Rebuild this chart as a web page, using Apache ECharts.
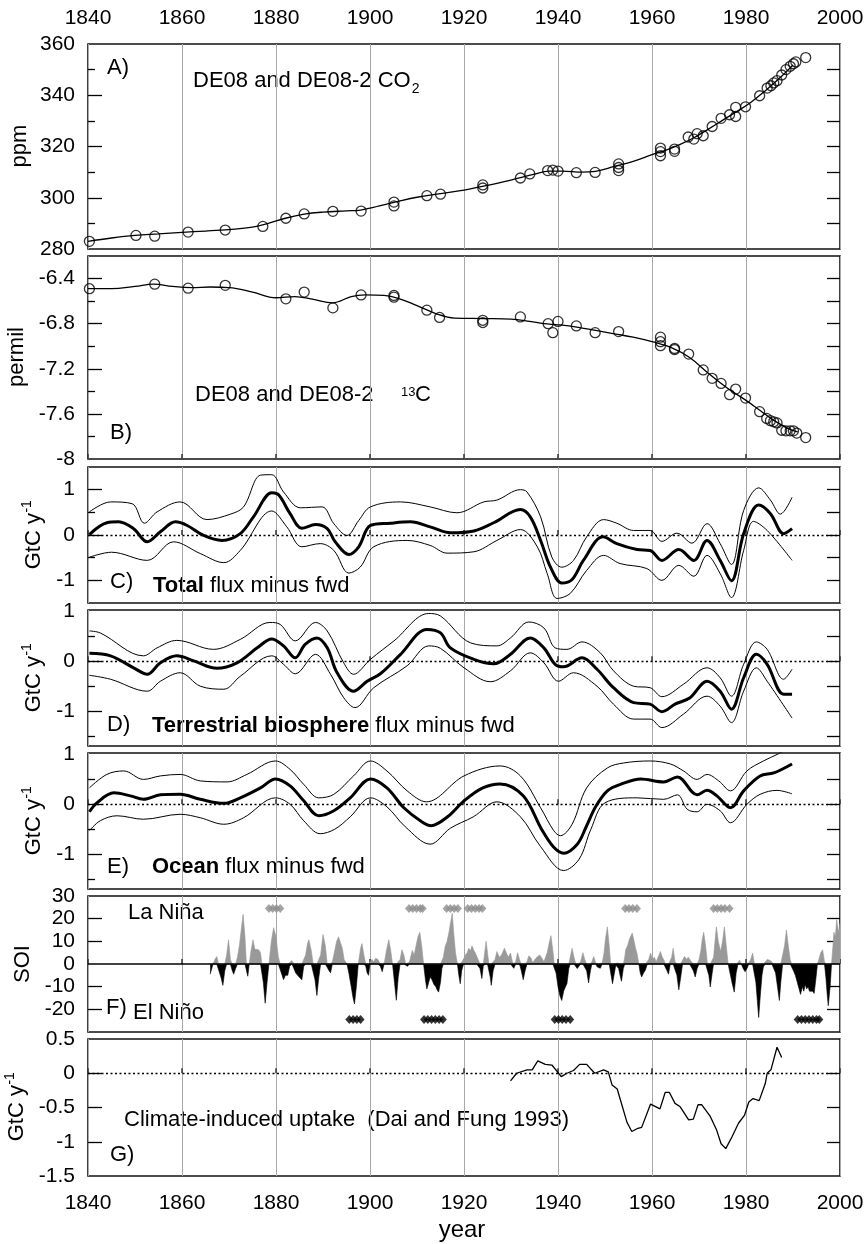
<!DOCTYPE html>
<html>
<head>
<meta charset="utf-8">
<script src="https://cdn.jsdelivr.net/npm/echarts@6/dist/echarts.min.js"></script>
<style>
  html, body { margin: 0; padding: 0; background: #fff; }
  #chart { width: 868px; height: 1244px; }
</style>
</head>
<body>
<div id="chart"></div>
<script>
// ---------- data ----------
// A) CO2 (ppm): ice-core samples and spline fit
const co2Samples = [
  [1840.3,283.0],[1850.2,285.3],[1854.2,285.0],[1861.3,286.6],[1869.2,287.4],[1877.2,288.8],
  [1882.1,292.0],[1886.0,293.7],[1892.1,294.7],[1898.1,294.8],[1905.1,298.3],[1905.1,296.8],
  [1912.1,300.8],[1915.0,301.4],[1924.0,305.0],[1924.0,303.8],[1932.0,307.7],[1934.0,309.3],
  [1937.8,310.6],[1938.9,310.8],[1940.0,310.4],[1943.9,309.8],[1947.9,309.9],[1952.9,313.2],
  [1952.9,311.8],[1952.9,310.6],[1961.8,319.4],[1961.8,318.0],[1961.8,316.4],[1964.8,319.0],
  [1964.8,318.1],[1967.7,323.7],[1968.9,322.9],[1969.6,325.0],[1970.9,324.2],[1972.8,327.8],
  [1974.7,331.0],[1976.5,332.4],[1977.8,335.3],[1977.8,331.7],[1979.9,335.5],[1982.9,339.8],
  [1984.5,342.8],[1985.3,343.7],[1985.9,344.8],[1986.6,345.7],[1987.6,347.9],[1988.5,350.0],
  [1989.4,351.3],[1990.1,352.3],[1990.6,353.0],[1992.7,354.7]
];
const co2Fit = [
  [1840,283.0],[1845,284.3],[1850,285.3],[1855,285.9],[1860,286.5],[1865,287.0],[1870,287.6],
  [1875,288.5],[1878,289.8],[1882,292.0],[1886,293.6],[1890,294.4],[1895,294.9],[1898,295.2],
  [1902,296.8],[1906,298.6],[1910,300.2],[1915,301.6],[1920,303.0],[1925,304.8],[1930,306.9],
  [1935,309.2],[1938,310.4],[1941,310.4],[1945,310.0],[1948,310.3],[1952,312.2],[1956,314.2],
  [1960,316.8],[1963,318.6],[1966,320.8],[1969,323.5],[1972,326.8],[1975,330.2],[1978,333.6],
  [1981,337.2],[1984,341.6],[1987,346.4],[1990,351.8]
];
// B) delta 13C (permil): samples and spline fit
const c13Samples = [
  [1840.3,-6.49],[1854.2,-6.45],[1861.3,-6.485],[1869.2,-6.46],[1882.1,-6.58],[1886.0,-6.52],
  [1892.1,-6.66],[1898.1,-6.545],[1905.1,-6.55],[1905.1,-6.565],[1912.1,-6.68],[1914.8,-6.745],
  [1924.0,-6.77],[1924.0,-6.79],[1932.0,-6.74],[1937.9,-6.80],[1938.9,-6.88],[1940.0,-6.78],
  [1943.9,-6.82],[1947.9,-6.88],[1952.9,-6.87],[1961.8,-6.92],[1961.8,-6.96],[1961.8,-6.995],
  [1964.8,-7.02],[1964.8,-7.03],[1967.8,-7.07],[1970.9,-7.21],[1972.8,-7.285],[1974.7,-7.33],
  [1976.5,-7.43],[1977.8,-7.38],[1979.9,-7.46],[1982.9,-7.58],[1984.4,-7.64],[1985.2,-7.66],
  [1985.9,-7.67],[1986.6,-7.68],[1987.6,-7.745],[1988.5,-7.75],[1989.4,-7.75],[1990.1,-7.75],
  [1990.8,-7.77],[1992.7,-7.81]
];
const c13Fit = [
  [1840,-6.49],[1845,-6.49],[1850,-6.47],[1854,-6.45],[1858,-6.47],[1862,-6.48],[1866,-6.475],
  [1870,-6.48],[1875,-6.52],[1880,-6.57],[1884,-6.56],[1888,-6.585],[1892,-6.615],[1896,-6.56],
  [1899,-6.545],[1903,-6.55],[1906,-6.575],[1910,-6.64],[1914,-6.71],[1918,-6.75],[1924,-6.755],
  [1930,-6.76],[1934,-6.78],[1937,-6.80],[1940,-6.81],[1944,-6.83],[1948,-6.86],[1952,-6.89],
  [1956,-6.92],[1960,-6.96],[1964,-7.01],[1968,-7.10],[1972,-7.24],[1976,-7.37],[1980,-7.48],
  [1983,-7.57],[1986,-7.66],[1989,-7.73],[1991,-7.76]
];
// C) total flux minus fwd (GtC/yr): mean and band
const totalMean = [
  [1840.3,0.01],[1844,0.27],[1846.5,0.29],[1849.7,0.14],[1852.6,-0.15],[1855.4,0.07],[1858.6,0.29],
  [1861.1,0.21],[1864.6,-0.01],[1868.5,-0.12],[1872.4,0.03],[1875.2,0.40],[1879.1,0.93],[1880.6,0.88],
  [1883.0,0.47],[1885.5,0.15],[1888.4,0.23],[1890.9,0.14],[1892.6,-0.15],[1895.5,-0.43],[1897.6,-0.26],
  [1900.1,0.21],[1904.3,0.26],[1908.6,0.29],[1912.8,0.18],[1917.1,0.05],[1922.1,0.09],[1926.3,0.27],
  [1932.0,0.56],[1934.1,0.40],[1936.3,-0.12],[1938.4,-0.71],[1940.8,-1.06],[1943.0,-0.98],[1945.4,-0.56],
  [1949.6,-0.04],[1952.5,-0.19],[1956.8,-0.32],[1959.6,-0.34],[1962.1,-0.56],[1965.7,-0.32],[1968.9,-0.56],
  [1971.7,-0.12],[1974.5,-0.56],[1976.9,-1.01],[1979.5,0.03],[1982.7,0.66],[1985.2,0.47],[1988.0,0.03],
  [1989.8,0.14]
];
const totalUpper = [
  [1840.3,0.51],[1844.8,0.73],[1849.4,0.69],[1852,0.26],[1854.7,0.51],[1859.6,0.73],[1865.3,0.34],
  [1870.3,0.46],[1873.1,0.62],[1876.7,1.32],[1879.1,1.33],[1881.6,0.95],[1885.2,0.60],[1889.8,0.62],
  [1892.3,0.25],[1895.1,-0.01],[1897.6,0.32],[1900.1,0.62],[1906.5,0.73],[1912.8,0.62],[1918.5,0.49],
  [1924.2,0.73],[1927,0.77],[1932,1.0],[1933.4,0.95],[1936.3,0.40],[1938.7,-0.49],[1940.8,-0.71],
  [1943.3,-0.56],[1946.1,-0.04],[1949.7,0.34],[1952.5,0.26],[1956.1,0.10],[1959.6,0.10],[1962.1,-0.14],
  [1965.3,0.04],[1968.5,-0.18],[1971.7,0.25],[1974.5,-0.19],[1976.9,-0.65],[1979.5,0.54],[1982.7,1.04],
  [1985.2,0.77],[1987.3,0.46],[1989.8,0.83]
];
const totalLower = [
  [1840.3,-0.49],[1845,-0.38],[1852.6,-0.56],[1858.2,-0.15],[1863.9,-0.41],[1868.9,-0.61],[1872.4,-0.34],
  [1879.1,0.53],[1882.3,0.18],[1885.5,-0.26],[1889.4,-0.19],[1892.3,-0.34],[1895.5,-0.84],[1897.9,-0.71],
  [1900.8,-0.26],[1907.9,-0.12],[1912.8,-0.23],[1916.4,-0.40],[1922.1,-0.37],[1927,-0.12],[1932,0.12],
  [1935.6,-0.26],[1937.7,-0.85],[1939.8,-1.40],[1942.6,-1.29],[1946.1,-0.78],[1949.7,-0.45],[1953.2,-0.63],
  [1958.9,-0.74],[1962.1,-1.0],[1965.7,-0.67],[1968.9,-0.91],[1971.7,-0.45],[1974.5,-0.85],[1976.9,-1.38],
  [1979.5,-0.34],[1981.6,0.30],[1984.5,0.10],[1989.8,-0.56]
];
// D) terrestrial biosphere flux minus fwd
const bioMean = [
  [1840.3,0.16],[1844.8,0.11],[1849.7,-0.13],[1852.6,-0.26],[1855.4,-0.03],[1858.9,0.11],[1862.5,0.01],
  [1867.4,-0.14],[1871.7,-0.03],[1876,0.27],[1879.1,0.45],[1881.6,0.31],[1884.1,0.07],[1886.2,0.34],
  [1888.7,0.47],[1890.9,0.27],[1893,-0.23],[1896.5,-0.60],[1899.4,-0.40],[1902.2,-0.25],[1906.5,0.14],
  [1912.1,0.64],[1915,0.57],[1917.1,0.27],[1922.1,0.04],[1926.3,-0.05],[1929.9,0.14],[1934.1,0.47],
  [1937,0.27],[1939.4,-0.06],[1941.2,-0.11],[1945.1,0.07],[1948.3,-0.16],[1951.8,-0.53],[1956.1,-0.83],
  [1959.6,-0.86],[1962.1,-1.01],[1964.9,-0.86],[1968.1,-0.73],[1971.7,-0.40],[1974.5,-0.60],[1976.9,-0.96],
  [1979.5,-0.33],[1982.2,0.14],[1984.5,-0.06],[1988,-0.66],[1989.8,-0.66]
];
const bioUpper = [
  [1840.3,0.61],[1842.6,0.57],[1851.8,0.11],[1854.7,0.27],[1858.9,0.42],[1866.7,0.24],[1872.4,0.44],
  [1878.7,0.78],[1880.9,0.74],[1884.1,0.41],[1888.4,0.78],[1890.9,0.61],[1894.4,-0.03],[1896.5,-0.26],
  [1900.1,0.04],[1905.1,0.41],[1912.5,0.96],[1915,0.91],[1921.4,0.37],[1927,0.31],[1929.9,0.47],
  [1933.8,0.79],[1937,0.67],[1939.4,0.27],[1941.9,0.24],[1945.1,0.39],[1949,0.17],[1951.8,-0.19],
  [1956.1,-0.50],[1959.6,-0.53],[1962.1,-0.71],[1966.7,-0.46],[1971.7,-0.13],[1974.5,-0.33],[1976.9,-0.70],
  [1979.5,-0.06],[1982.2,0.39],[1984.5,0.24],[1988,-0.36],[1989.8,-0.16]
];
const bioLower = [
  [1840.3,-0.28],[1844.8,-0.36],[1852.6,-0.60],[1855.4,-0.40],[1859.6,-0.23],[1863.9,-0.50],[1868.9,-0.56],
  [1872.4,-0.30],[1879.1,0.11],[1881.6,-0.06],[1884.1,-0.25],[1888.4,0.14],[1891.6,-0.26],[1894.4,-0.73],
  [1896.8,-0.93],[1900.8,-0.53],[1907.9,-0.09],[1912.5,0.31],[1915,0.26],[1920,-0.13],[1925.6,-0.41],
  [1929.9,-0.19],[1934.1,0.17],[1937,-0.03],[1940.1,-0.40],[1943.3,-0.23],[1948.3,-0.50],[1951.8,-0.86],
  [1956.1,-1.16],[1959.6,-1.16],[1962.1,-1.33],[1966.7,-1.06],[1971.7,-0.70],[1974.5,-0.90],[1976.9,-1.23],
  [1979.5,-0.60],[1982.2,-0.13],[1984.5,-0.40],[1989.8,-1.14]
];
// E) ocean flux minus fwd
const oceanMean = [
  [1840.3,-0.15],[1841.9,0.03],[1845.5,0.23],[1849,0.17],[1851.8,0.10],[1855.4,0.19],[1859.6,0.20],
  [1863.9,0.10],[1868.9,0.02],[1872.4,0.13],[1876.7,0.33],[1879.9,0.51],[1883,0.37],[1885.9,0.07],
  [1889.1,-0.23],[1892.3,-0.13],[1895.8,0.13],[1900.1,0.51],[1903.6,0.33],[1907.2,-0.07],[1910.7,-0.33],
  [1913,-0.43],[1916.5,-0.25],[1920,0.07],[1924,0.33],[1927.7,0.41],[1932.6,0.17],[1936.5,-0.50],
  [1939,-0.85],[1941.2,-0.98],[1944.1,-0.80],[1946,-0.45],[1948,-0.05],[1950.5,0.27],[1953.3,0.40],
  [1957.6,0.51],[1962.5,0.45],[1965.4,0.55],[1969.6,0.19],[1971.7,0.28],[1973.8,0.17],[1976.7,-0.07],
  [1979.5,0.27],[1983,0.57],[1985.9,0.63],[1989.8,0.81]
];
const oceanUpper = [
  [1840.3,0.33],[1844,0.60],[1847.6,0.67],[1851.8,0.50],[1855.4,0.57],[1859.6,0.60],[1863.9,0.47],
  [1869.6,0.45],[1873.8,0.60],[1879.9,0.87],[1883,0.70],[1885.9,0.40],[1889.1,0.13],[1892.3,0.20],
  [1896.5,0.57],[1900.1,0.87],[1903.6,0.67],[1907.9,0.27],[1912,0.05],[1920,0.57],[1927.7,0.77],
  [1932,0.57],[1936.3,-0.07],[1939.1,-0.53],[1940.5,-0.63],[1943,-0.40],[1946.1,0.33],[1950.5,0.73],
  [1954,0.83],[1959.6,0.87],[1963.9,0.81],[1966.7,0.67],[1969.6,0.50],[1971.7,0.60],[1974.2,0.47],
  [1976.7,0.27],[1980.2,0.67],[1983.7,0.87],[1986.6,1.0],[1988.5,1.1]
];
const oceanLower = [
  [1840.3,-0.53],[1842.6,-0.33],[1846.2,-0.23],[1851.8,-0.30],[1859.6,-0.20],[1863.9,-0.27],[1868.9,-0.40],
  [1873.1,-0.27],[1879.9,0.13],[1883,0.0],[1885.9,-0.33],[1889.4,-0.59],[1892.5,-0.50],[1895.8,-0.25],
  [1900.1,0.13],[1903.6,-0.05],[1907.5,-0.45],[1912.8,-0.80],[1917.1,-0.48],[1922,-0.25],[1927,0.05],
  [1932,-0.25],[1936.3,-0.85],[1941.2,-1.33],[1944.5,-1.10],[1947,-0.50],[1950,0.03],[1956.8,0.13],
  [1962.5,0.10],[1965.4,0.19],[1967.5,-0.10],[1969.6,-0.15],[1971.7,0.0],[1974.5,-0.13],[1976.7,-0.37],
  [1980.2,0.0],[1983,0.20],[1986.6,0.28],[1989.8,0.21]
];
// F) Southern Oscillation Index
const soi = [
  [1866.0,-4.5],[1866.6,0],[1867.0,2],[1867.4,3.3],[1867.8,0],[1868.3,-6],[1868.7,-9.4],[1869.1,-3],
  [1869.5,4],[1869.9,10.7],[1870.3,2],[1870.7,-3],[1871.0,-4.5],[1871.4,-2],[1871.8,3],[1872.2,8],
  [1872.6,15],[1873.0,21.9],[1873.4,12],[1873.7,0],[1874.0,-5.4],[1874.3,0],[1874.7,6],[1875.1,10.7],
  [1875.5,6.5],[1875.9,6],[1876.3,6.3],[1876.7,5],[1877.0,0],[1877.3,-8],[1877.7,-17.3],[1878.1,-8],
  [1878.5,0],[1879.0,10],[1879.5,16],[1880.0,12],[1880.5,3],[1880.9,0],[1881.3,-5],[1881.6,-6.9],
  [1882.0,-5],[1882.5,-5],[1882.9,-1],[1883.4,1.5],[1883.8,-2],[1884.2,-4],[1884.6,-5],[1885.0,-5.5],
  [1885.5,-7],[1885.9,-1],[1886.3,4],[1886.7,9],[1887.0,10.7],[1887.5,6],[1887.9,0],[1888.3,-7],
  [1888.7,-13.9],[1889.1,-6],[1889.5,4],[1890.0,13],[1890.5,8],[1890.9,0],[1891.3,-3],[1891.6,-3.9],
  [1892.0,1],[1892.5,6],[1892.9,10],[1893.3,12],[1893.7,12],[1894.1,7],[1894.5,2],[1895.1,0],
  [1895.5,-4],[1896.0,-10],[1896.4,-15],[1896.7,-17.6],[1897.1,-10],[1897.5,0],[1898.0,7],[1898.3,9],
  [1898.7,4],[1899.1,-1],[1899.4,-4],[1899.7,-5],[1900.0,0],[1900.4,2],[1900.8,1],[1901.2,2.5],
  [1901.7,2],[1902.2,-1],[1902.6,-3.4],[1903.0,0],[1903.5,6],[1904.0,10.7],[1904.4,6],[1904.8,0],
  [1905.2,-8],[1905.6,-16],[1906.0,-6],[1906.4,2],[1906.8,6.3],[1907.2,4],[1907.6,0],[1908.0,-1],
  [1908.4,1],[1909.0,6],[1909.4,4],[1909.8,8],[1910.2,12],[1910.6,14],[1911.0,8],[1911.4,0],
  [1911.8,-7],[1912.1,-11],[1912.5,-8],[1912.8,-5.7],[1913.2,-7],[1913.6,-9],[1914.0,-10],[1914.3,-11.5],
  [1914.6,-12.4],[1915.0,-8],[1915.3,-2],[1915.6,3],[1916.0,7.8],[1916.4,10],[1916.8,14],[1917.2,19],
  [1917.5,22.4],[1917.8,14],[1918.2,4.8],[1918.6,0],[1918.9,-5],[1919.2,-8.7],[1919.5,-3],[1919.9,2],
  [1920.3,4],[1920.7,5],[1921.0,6.9],[1921.4,6],[1921.7,8],[1922.1,6],[1922.4,5],[1922.7,5.5],
  [1923.0,2],[1923.4,-2],[1923.8,-6.4],[1924.1,-1],[1924.4,5],[1924.7,10],[1925.0,5],[1925.3,0],
  [1925.6,-6],[1925.8,-9.4],[1926.2,-3],[1926.6,2],[1927.0,5.5],[1927.5,3],[1928.0,4],[1928.6,7],
  [1929.0,5],[1929.4,3],[1929.9,4.8],[1930.3,1],[1930.6,-1.9],[1931.0,1],[1931.4,5],[1931.8,2],
  [1932.2,-3],[1932.6,-6.9],[1933.0,-3],[1933.4,1],[1933.8,3.6],[1934.3,2.5],[1934.6,0.5],[1935.0,1.8],
  [1935.5,3],[1936.1,4],[1936.6,2.5],[1937.0,1],[1937.3,1.8],[1937.7,5],[1938.1,9],[1938.5,12.5],
  [1938.9,6],[1939.2,0],[1939.6,-4],[1940.0,-10],[1940.4,-14],[1940.8,-16.1],[1941.2,-12],[1941.6,-10],
  [1941.9,-8.7],[1942.3,-2],[1942.6,3],[1943.0,6.9],[1943.4,3],[1943.8,0],[1944.1,-2],[1944.4,-2.7],
  [1944.8,1],[1945.3,5],[1945.7,2],[1946.1,-3],[1946.5,-8.3],[1946.9,-3],[1947.2,1],[1947.6,3.3],
  [1948.0,0.5],[1948.3,-1.2],[1948.7,-1],[1949.0,-1.9],[1949.4,0.5],[1949.8,5],[1950.1,11],[1950.5,16.4],
  [1950.9,8],[1951.2,0],[1951.6,-8.7],[1952.0,-4],[1952.3,-0.5],[1952.6,0.5],[1952.9,-2],[1953.2,-5],
  [1953.5,-7.6],[1953.9,-2],[1954.2,3],[1954.4,6.3],[1954.8,8],[1955.2,11],[1955.8,13.7],[1956.2,10],
  [1956.5,7],[1956.8,4.8],[1957.2,0],[1957.5,-4],[1957.8,-5.7],[1958.2,-4],[1958.6,-2.7],[1959.0,0],
  [1959.3,2],[1959.7,4.8],[1960.1,2],[1960.5,3],[1960.9,1],[1961.3,3],[1961.8,5.5],[1962.1,3.5],
  [1962.5,1.8],[1962.9,0],[1963.2,-3],[1963.5,-4.5],[1963.9,0],[1964.2,3],[1964.5,6.9],[1964.9,1],
  [1965.3,-5],[1965.7,-11.4],[1966.1,-6],[1966.5,0],[1966.9,3.3],[1967.4,2],[1967.7,3],[1968.0,3],
  [1968.4,1],[1968.8,-3],[1969.2,-5.7],[1969.6,-2],[1970.0,2],[1970.4,6],[1970.7,11],[1971.0,14],
  [1971.4,8],[1971.8,0],[1972.1,-5],[1972.4,-10.1],[1972.8,-4],[1973.1,3],[1973.4,10],[1973.7,16.4],
  [1974.1,10],[1974.6,5.5],[1975.0,10],[1975.4,16.4],[1975.8,8],[1976.2,0],[1976.6,-4],[1977.0,-8],
  [1977.5,-12.4],[1977.9,-4],[1978.3,0.5],[1978.6,1.8],[1979.0,0],[1979.4,-2],[1979.8,-3.4],[1980.2,-2],
  [1980.6,0.5],[1981.0,2],[1981.4,4.8],[1981.8,0],[1982.1,-8],[1982.4,-16],[1982.7,-23.6],[1983.0,-15],
  [1983.4,-5],[1983.7,-1.2],[1984.1,1],[1984.5,2],[1984.8,2.5],[1985.2,1.5],[1985.5,1.8],[1985.9,0],
  [1986.3,-4],[1986.7,-10],[1987.1,-16.1],[1987.4,-8],[1987.8,0],[1988.2,8],[1988.6,15],[1989.0,8],
  [1989.4,2],[1989.7,0],[1990.1,-3],[1990.5,-5],[1990.9,-8],[1991.3,-11],[1991.6,-13.4],[1992.0,-10],
  [1992.3,-12],[1992.6,-9],[1992.9,-11],[1993.2,-10],[1993.5,-12],[1993.8,-11.4],[1994.2,-12],[1994.5,-13],
  [1994.9,-6],[1995.2,0],[1995.5,2],[1995.9,5],[1996.3,6.3],[1996.7,1],[1997.0,-6],[1997.3,-14],
  [1997.5,-18.4],[1997.9,-10],[1998.2,0],[1998.5,8],[1998.7,14],[1999.0,12],[1999.3,19.5],[1999.7,14],
  [2000.0,18]
];
const laNinaYears = [1878.5,1879.3,1880.1,1880.9, 1908.3,1909.1,1909.9,1910.7,1911.2,
  1916.3,1917.1,1917.9,1918.7, 1920.8,1921.6,1922.4,1923.2,1923.9,
  1954.3,1955.1,1955.9,1956.8, 1973.1,1973.9,1974.7,1975.5,1976.5];
const elNinoYears = [1895.6,1896.4,1897.2,1898.0, 1911.5,1912.3,1913.1,1913.9,1914.7,1915.5,
  1939.3,1940.1,1940.9,1941.7,1942.6, 1991.0,1991.8,1992.6,1993.4,1994.2,1995.0,1995.6];
// G) climate-induced uptake (Dai and Fung 1993)
const daiFung = [
  [1929.9,-0.11],[1931.2,0.0],[1933.4,0.05],[1934.5,0.05],[1935.7,0.18],[1937.3,0.13],[1938.7,0.12],
  [1940.7,-0.05],[1941.9,0.0],[1943.3,0.04],[1944.6,0.13],[1946.1,0.13],[1947.8,0.0],[1949.7,0.05],
  [1950.7,0.02],[1951.5,-0.17],[1952.6,-0.23],[1954.7,-0.72],[1955.7,-0.85],[1956.8,-0.81],[1957.8,-0.79],
  [1959.7,-0.45],[1961.7,-0.52],[1962.8,-0.28],[1963.7,-0.28],[1964.9,-0.44],[1966.0,-0.49],[1967.8,-0.68],
  [1968.8,-0.67],[1969.8,-0.46],[1970.6,-0.46],[1972.4,-0.63],[1973.7,-0.82],[1974.7,-1.03],[1975.7,-1.10],
  [1977.0,-0.93],[1978.4,-0.73],[1979.7,-0.61],[1980.6,-0.42],[1981.5,-0.37],[1982.8,-0.40],[1984.1,-0.15],
  [1984.5,0.0],[1985.3,0.05],[1986.6,0.38],[1987.6,0.23]
];

// tick label values per panel
const yearTicks = [1840, 1860, 1880, 1900, 1920, 1940, 1960, 1980, 2000];
const co2Labels = [280, 300, 320, 340, 360];
const c13Labels = [-8, -7.6, -7.2, -6.8, -6.4];
const fluxLabels = [-1, 0, 1];
const soiLabels = [-20, -10, 0, 10, 20, 30];
const uptakeLabels = [-1.5, -1, -0.5, 0, 0.5];

// ---------- layout ----------
const FONT = '"Liberation Sans", Arial, Helvetica, sans-serif';
const LEFT = 88, WIDTH = 752;
const panels = [
  { top: 44,   h: 205, min: 280,  max: 360,  labels: co2Labels,
    major: [300, 320, 340], minor: [290, 310, 330, 350], right: [290, 300, 310, 320, 330, 340, 350] },
  { top: 256,  h: 203, min: -8,   max: -6.2, labels: c13Labels,
    major: [-7.6, -7.2, -6.8, -6.4], minor: [-7.8, -7.4, -7.0, -6.6],
    right: [-7.8, -7.6, -7.4, -7.2, -7.0, -6.8, -6.6, -6.4] },
  { top: 467,  h: 136, min: -1.5, max: 1.5,  labels: fluxLabels,
    major: [-1, 0, 1], minor: [-0.5, 0.5], right: [-1, -0.5, 0, 0.5, 1] },
  { top: 610,  h: 136, min: -1.7, max: 1.03, labels: fluxLabels,
    major: [-1, 0], minor: [-1.5, -0.5, 0.5], right: [-1.5, -1, -0.5, 0, 0.5] },
  { top: 753,  h: 136, min: -1.7, max: 1.03, labels: fluxLabels,
    major: [-1, 0], minor: [-1.5, -0.5, 0.5], right: [-1.5, -1, -0.5, 0, 0.5] },
  { top: 896,  h: 136, min: -30,  max: 30,   labels: soiLabels,
    major: [-20, -10, 10, 20], minor: [], right: [-20, -10, 10, 20] },
  { top: 1039, h: 137, min: -1.5, max: 0.5,  labels: uptakeLabels,
    major: [-1, -0.5, 0], minor: [], right: [-1, -0.5, 0] }
];

const grids = [], xAxes = [], yAxes = [];
panels.forEach((p, g) => {
  grids.push({ left: LEFT, width: WIDTH, top: p.top, height: p.h, show: true,
    borderColor: '#111', borderWidth: 1.6, backgroundColor: 'transparent' });
  const showLab = g === 0 || g === panels.length - 1;
  xAxes.push({
    type: 'value', gridIndex: g, min: 1840, max: 2000, interval: 20,
    position: g === 0 ? 'top' : 'bottom',
    axisLine: { show: false },
    axisTick: { show: g !== 0, inside: true, length: 5, lineStyle: { color: '#333', width: 1.5 } },
    axisLabel: { show: showLab, customValues: yearTicks, fontSize: 21, fontFamily: FONT, color: '#000',
      margin: g === 0 ? 15 : 17, formatter: v => String(Math.round(v)) },
    splitLine: { show: true, lineStyle: { color: '#a8a8a8', width: 1 } }
  });
  const base = { type: 'value', gridIndex: g, min: p.min, max: p.max,
    axisLine: { show: false }, splitLine: { show: false } };
  // labelled axis with long ticks
  yAxes.push(Object.assign({}, base, {
    position: 'left',
    axisTick: { show: true, inside: true, length: 14, customValues: p.major,
      lineStyle: { color: '#000', width: 1.3 } },
    axisLabel: { show: true, customValues: p.labels, fontSize: 21, fontFamily: FONT, color: '#000', margin: 13,
      formatter: v => String(+(+v).toFixed(2)) }
  }));
  // short ticks
  yAxes.push(Object.assign({}, base, {
    position: 'left',
    axisTick: { show: p.minor.length > 0, inside: true, length: 7, customValues: p.minor,
      lineStyle: { color: '#000', width: 1.3 } },
    axisLabel: { show: false }
  }));
  // right-hand ticks
  yAxes.push(Object.assign({}, base, {
    position: 'right',
    axisTick: { show: true, inside: true, length: 13, customValues: p.right,
      lineStyle: { color: '#000', width: 1.3 } },
    axisLabel: { show: false }
  }));
});

// ---------- series ----------
function zeroLine(type, width) {
  return { silent: true, symbol: 'none', label: { show: false }, animation: false,
    lineStyle: { color: '#000', width: width, type: type }, data: [{ yAxis: 0 }] };
}
function curve(g, data, width, smooth, extra) {
  return Object.assign({
    type: 'line', xAxisIndex: g, yAxisIndex: 3 * g, data: data, symbol: 'none',
    smooth: smooth, silent: true, z: 3,
    lineStyle: { color: '#000', width: width }
  }, extra || {});
}
function circles(g, data) {
  return {
    type: 'scatter', xAxisIndex: g, yAxisIndex: 3 * g, data: data, symbol: 'circle', symbolSize: 10,
    silent: true, z: 4,
    itemStyle: { color: 'rgba(255,255,255,0)', borderColor: '#000', borderWidth: 1.3 }
  };
}
function diamonds(g, years, level, color) {
  return {
    type: 'scatter', xAxisIndex: g, yAxisIndex: 3 * g, data: years.map(y => [y, level]),
    symbol: 'diamond', symbolSize: [8, 9], silent: true, z: 4, itemStyle: { color: color }
  };
}
// SOI split into the La Niña (positive, grey) and El Niño (negative, black) parts, filled to zero
function soiArea(g, sign, color) {
  return curve(g, soi.map(d => [d[0], sign > 0 ? Math.max(d[1], 0) : Math.min(d[1], 0)]), 0.6, false, {
    lineStyle: { color: color, width: 0.6 },
    areaStyle: { color: color, opacity: 1, origin: 0 }, z: 2
  });
}

const series = [
  curve(0, co2Fit, 1.3, 0.4),
  circles(0, co2Samples),
  curve(1, c13Fit, 1.3, 0.4),
  circles(1, c13Samples),
  curve(2, totalUpper, 1, 0.35, { markLine: zeroLine([2, 2.5], 1.3) }),
  curve(2, totalLower, 1, 0.35),
  curve(2, totalMean, 3, 0.35),
  curve(3, bioUpper, 1, 0.35, { markLine: zeroLine([2, 2.5], 1.3) }),
  curve(3, bioLower, 1, 0.35),
  curve(3, bioMean, 3, 0.35),
  curve(4, oceanUpper, 1, 0.35, { markLine: zeroLine([2, 2.5], 1.3) }),
  curve(4, oceanLower, 1, 0.35),
  curve(4, oceanMean, 3, 0.35),
  soiArea(5, 1, '#999'),
  soiArea(5, -1, '#000'),
  diamonds(5, laNinaYears, 24.5, '#8c8c8c'),
  Object.assign(diamonds(5, elNinoYears, -24.5, '#000'), { markLine: zeroLine('solid', 1.6) }),
  curve(6, daiFung, 1.3, false, { markLine: zeroLine([2, 2.5], 1.3) })
];

// ---------- annotations ----------
const ctx = document.createElement('canvas').getContext('2d');
function textWidth(t, size, weight) {
  ctx.font = (weight || 'normal') + ' ' + size + 'px "Liberation Sans"';
  return ctx.measureText(t).width;
}
function label(x, y, text, opts) {
  return { type: 'text', x: x, y: y, silent: true,
    style: Object.assign({ text: text, fontSize: 22, fontFamily: FONT, fill: '#000',
      align: 'left', verticalAlign: 'middle' }, opts || {}) };
}
const boldRich = { b: { fontWeight: 'bold', fontSize: 22, fontFamily: FONT, fill: '#000' } };
function vertical(cx, cy, text) {
  return { type: 'text', x: cx, y: cy, rotation: Math.PI / 2, silent: true,
    style: { text: text, fontSize: 22, fontFamily: FONT, fill: '#000', align: 'center', verticalAlign: 'middle' } };
}
function gtcLabel(cx, cy) {
  const wm = textWidth('GtC y', 22), ws = textWidth('-1', 14);
  const start = -(wm + ws) / 2;
  return { type: 'group', x: cx, y: cy, rotation: Math.PI / 2, silent: true, children: [
    label(start, 0, 'GtC y'),
    label(start + wm + 0.5, -7, '-1', { fontSize: 14 })
  ] };
}
const co2Text = 'DE08 and DE08-2 CO';
const graphics = [
  label(107, 68, 'A)'),
  label(193, 81, co2Text),
  label(193 + textWidth(co2Text, 22) + 1, 89, '2', { fontSize: 14 }),
  vertical(20, 146, 'ppm'),

  label(110, 433, 'B)'),
  label(195, 395, 'DE08 and DE08-2'),
  label(401, 392, '13', { fontSize: 13 }),
  label(415, 395, 'C'),
  vertical(17, 357, 'permil'),

  label(110, 582, 'C)'),
  label(153, 586, '{b|Total} flux minus fwd', { rich: boldRich }),
  gtcLabel(34, 535),

  label(107, 725, 'D)'),
  label(152, 726, '{b|Terrestrial biosphere} flux minus fwd', { rich: boldRich }),
  gtcLabel(34, 678),

  label(107, 867, 'E)'),
  label(152, 867, '{b|Ocean} flux minus fwd', { rich: boldRich }),
  gtcLabel(34, 821),

  label(128, 913, 'La Niña'),
  label(106, 1008, 'F)'),
  label(133, 1013, 'El Niño'),
  vertical(23, 964, 'SOI'),

  label(124, 1120, 'Climate-induced uptake  (Dai and Fung 1993)'),
  label(110, 1155, 'G)'),
  gtcLabel(17, 1107),

  label(462, 1230, 'year', { fontSize: 24, align: 'center' })
];

const chart = echarts.init(document.getElementById('chart'), null, { renderer: 'canvas' });
chart.setOption({
  animation: false,
  backgroundColor: '#fff',
  grid: grids,
  xAxis: xAxes,
  yAxis: yAxes,
  series: series,
  graphic: graphics
});
</script>
</body>
</html>
